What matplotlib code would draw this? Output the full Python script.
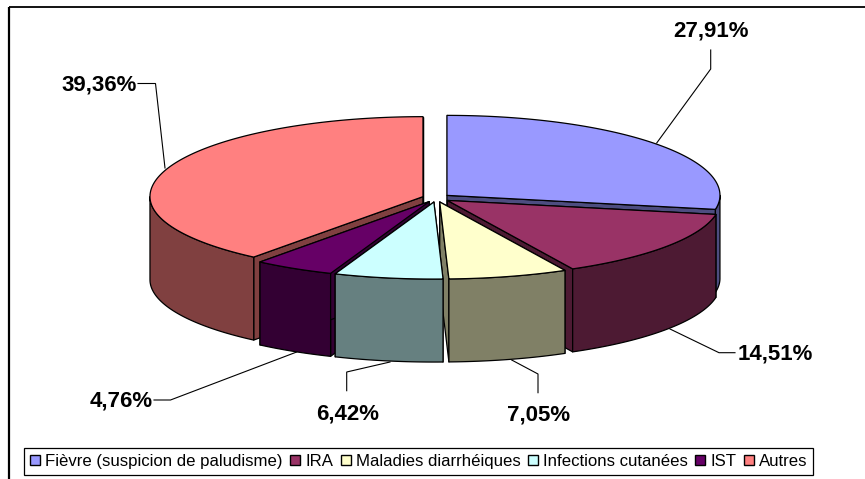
import numpy as np
import matplotlib
matplotlib.use("Agg")
import matplotlib.pyplot as plt
from matplotlib.patches import Polygon, Patch

categories = ["Fièvre (suspicion de paludisme)", "IRA", "Maladies diarrhéiques",
              "Infections cutanées", "IST", "Autres"]
values = [27.91, 14.51, 7.05, 6.42, 4.76, 39.36]
value_labels = ["27,91%", "14,51%", "7,05%", "6,42%", "4,76%", "39,36%"]
top_colors = ["#9999FF", "#993366", "#FFFFCC", "#CCFFFF", "#660066", "#FF8080"]
side_colors = ["#4D4D80", "#4D1A33", "#808066", "#668080", "#330033", "#804040"]

W, H = 865, 479
CX, CY, RX, RY_BACK, RY_FRONT, DEPTH, EXPLODE = 436.2, 198.0, 273.0, 80.0, 77.0, 83.0, 14.0
DRAW_ORDER = [0, 5, 1, 2, 4, 3]

label_pos = [(711, 30.5), (775, 354), (539, 414.5), (348, 414), (121, 401), (99.5, 84.5)]
leaders = [
    [(710.7, 50), (710.7, 69), (656.7, 143)],
    [(735, 352.7), (719, 352.7), (670, 329)],
    [(538, 392.7), (538, 374), (511.7, 360)],
    [(346.7, 390.7), (346.7, 372), (390, 362)],
    [(154, 400), (170.5, 400), (296.7, 352)],
    [(138, 83.5), (155.5, 83.5), (165, 168)],
]

plt.rcParams["font.family"] = ["Liberation Sans", "DejaVu Sans"]
fig = plt.figure(figsize=(W / 100, H / 100), dpi=100)
ax = fig.add_axes([0, 0, 1, 1])
ax.set_xlim(0, W)
ax.set_ylim(H, 0)
ax.axis("off")

# chart frame (its right and bottom sides fall outside the picture)
ax.plot([8.5, 8.5], [H + 5, 7], color="black", lw=1.6, solid_capstyle="butt", zorder=1)
ax.plot([8.5, W + 5], [7, 7], color="black", lw=1.3, solid_capstyle="butt", zorder=1)

total = sum(values)
edges = np.concatenate([[0], np.cumsum(values)]) / total * 360.0


def rim(ax0, ay0, ang):
    r = np.radians(ang)
    c = np.cos(r)
    return np.column_stack([ax0 + RX * np.sin(r),
                            ay0 - np.where(c > 0, RY_BACK, RY_FRONT) * c])


z = 2
for i in DRAW_ORDER:
    a0, a1 = edges[i], edges[i + 1]
    mid = np.radians((a0 + a1) / 2)
    ax0 = CX + EXPLODE * np.sin(mid)
    ay0 = CY - EXPLODE * RY_BACK / RX * np.cos(mid)
    apex = np.array([[ax0, ay0]])
    down = np.array([0, DEPTH])
    style = dict(edgecolor="black", linewidth=0.9, joinstyle="round")
    # cut faces
    for a in (a0, a1):
        p = rim(ax0, ay0, a)
        face = np.vstack([apex, p, p + down, apex + down])
        ax.add_patch(Polygon(face, closed=True, facecolor=side_colors[i], zorder=z, **style))
    z += 1
    # outer wall: only the part turned toward the viewer
    w0, w1 = max(a0, 90), min(a1, 270)
    if w1 > w0:
        arc = rim(ax0, ay0, np.linspace(w0, w1, 120))
        wall = np.vstack([arc, (arc + down)[::-1]])
        ax.add_patch(Polygon(wall, closed=True, facecolor=side_colors[i], zorder=z, **style))
    z += 1
    # top
    arc = rim(ax0, ay0, np.linspace(a0, a1, 240))
    ax.add_patch(Polygon(np.vstack([apex, arc]), closed=True, facecolor=top_colors[i], zorder=z, **style))
    z += 1

for pts, (tx, ty), txt in zip(leaders, label_pos, value_labels):
    xs, ys = zip(*pts)
    ax.plot(xs, ys, color="black", lw=0.8, zorder=z, solid_joinstyle="miter")
    ax.text(tx, ty, txt, ha="center", va="center", fontsize=16, fontweight="bold",
            color="black", zorder=z + 1)

handles = [Patch(facecolor=c, edgecolor="black", linewidth=1.0) for c in top_colors]
leg = ax.legend(handles, categories, loc="center", ncol=6,
                bbox_to_anchor=(418.7 / W, 1 - 461.3 / H), bbox_transform=ax.transAxes,
                fontsize=12.1, frameon=True, fancybox=False, framealpha=1,
                edgecolor="black", handlelength=0.6, handleheight=0.6,
                handletextpad=0.3, columnspacing=0.44, borderpad=0.36, borderaxespad=0)
leg.get_frame().set_linewidth(0.9)
leg.set_zorder(z + 2)

fig.savefig("out.png", dpi=100, facecolor="white")
